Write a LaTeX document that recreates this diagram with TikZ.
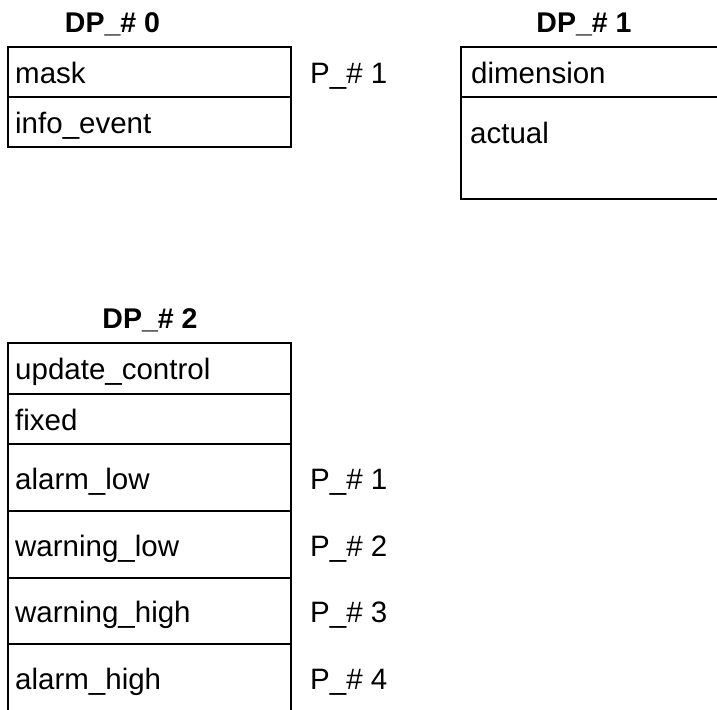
\documentclass[tikz,border=0pt]{standalone}
\usepackage{fontspec}
\setmainfont{Liberation Sans}
\begin{document}
\begin{tikzpicture}[x=1pt,y=-1pt,
  box/.style={draw=black, line width=2pt},
  lbl/.style={anchor=base west, inner sep=0pt, font=\fontsize{29.5}{35}\selectfont},
  ttl/.style={anchor=base, inner sep=0pt, font=\fontsize{28.5}{34}\selectfont\bfseries}]
\path[use as bounding box] (0,0) rectangle (717,709);
\clip (0,0) rectangle (717,709);
% DP_# 0
\node[ttl] (t0) at (112.5,33) {DP\_\# 0};
\draw[box] (8,47) rectangle (291,147);
\draw[box] (8,97) -- (291,97);
\node[lbl] (mask) at (15,83) {mask};
\node[lbl] (info) at (15,133) {info\_event};
\node[lbl] (p01) at (310,83) {P\_\# 1};
% DP_# 1
\node[ttl] (t1) at (584,33) {DP\_\# 1};
\draw[box] (461,47) rectangle (730,199);
\draw[box] (461,97) -- (730,97);
\node[lbl] (dim) at (471,83) {dimension};
\node[lbl] (act) at (470,143) {actual};
% DP_# 2
\node[ttl] (t2) at (150,328) {DP\_\# 2};
\draw[box] (8,343) rectangle (291,730);
\foreach \yy in {394,444,511,578,644} \draw[box] (8,\yy) -- (291,\yy);
\node[lbl] (uc) at (15,379.5) {update\_control};
\node[lbl] (fx) at (15,430) {fixed};
\node[lbl] (al) at (15,489) {alarm\_low};
\node[lbl] (wl) at (15,556) {warning\_low};
\node[lbl] (wh) at (15,622.5) {warning\_high};
\node[lbl] (ah) at (15,689) {alarm\_high};
\node[lbl] (p1) at (310,489) {P\_\# 1};
\node[lbl] (p2) at (310,556) {P\_\# 2};
\node[lbl] (p3) at (310,622.5) {P\_\# 3};
\node[lbl] (p4) at (310,689) {P\_\# 4};
\end{tikzpicture}
\end{document}
